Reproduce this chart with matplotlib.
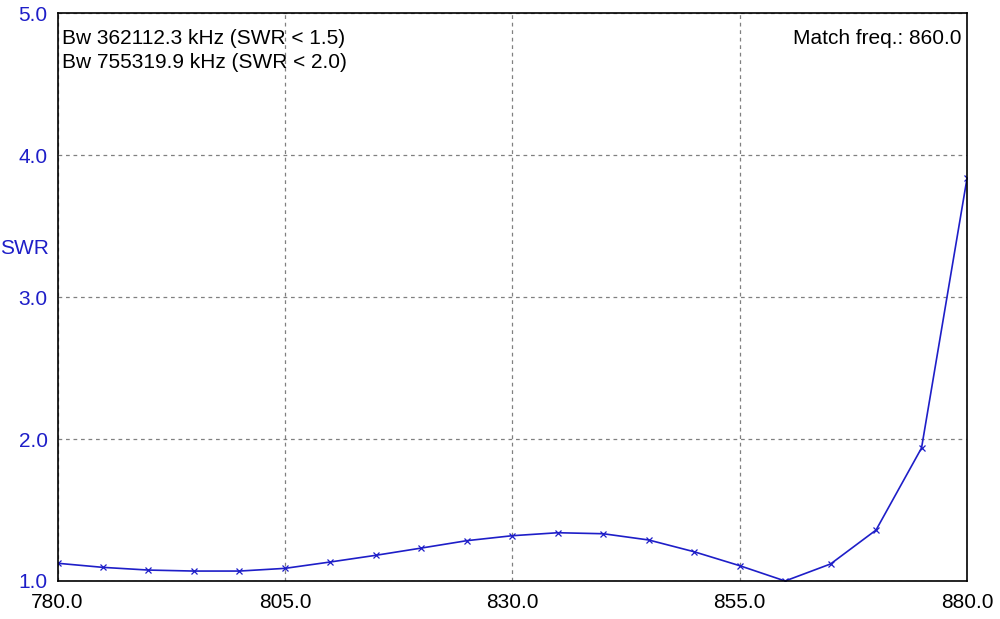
import numpy as np
import matplotlib.pyplot as plt

# SWR sweep, 780-880 MHz in 5 MHz steps
freq = [780, 785, 790, 795, 800, 805, 810, 815, 820, 825, 830,
        835, 840, 845, 850, 855, 860, 865, 870, 875, 880]
swr = [1.125, 1.096, 1.077, 1.070, 1.070, 1.089, 1.134, 1.181, 1.232, 1.284, 1.319,
       1.340, 1.333, 1.289, 1.206, 1.108, 1.000, 1.120, 1.359, 1.937, 3.836]
x_ticks = [780.0, 805.0, 830.0, 855.0, 880.0]
y_ticks = [1.0, 2.0, 3.0, 4.0, 5.0]
bw_lines = ["Bw 362112.3 kHz (SWR < 1.5)", "Bw 755319.9 kHz (SWR < 2.0)"]
match_text = "Match freq.: 860.0"

plt.rcParams['font.family'] = ['Liberation Sans', 'DejaVu Sans']
blue = '#1e1ec8'

fig = plt.figure(figsize=(10, 6.19), dpi=100)
ax = fig.add_axes([0.0575, 0.0614, 0.9095, 0.9172])

ax.plot(freq, swr, color=blue, lw=1.2, marker='x', ms=5, mew=0.9)

ax.set_xlim(780, 880)
ax.set_ylim(1.0, 5.0)
ax.set_xticks(x_ticks)
ax.set_xticklabels([f"{t:.1f}" for t in x_ticks])
ax.set_yticks(y_ticks)
ax.set_yticklabels([f"{t:.1f}" for t in y_ticks], color=blue)
ax.tick_params(length=0, labelsize=15)
ax.tick_params(axis='x', pad=9)
ax.tick_params(axis='y', pad=7)

ax.grid(True, color='#808080', ls=(0, (3, 3)), lw=0.9)
for s in ax.spines.values():
    s.set_linewidth(1.2)
    s.set_color('black')

fig.text(0.0, 1 - 249 / 619, "SWR", color=blue, fontsize=15, ha='left', va='center')

ax.text(0.005, 0.955, bw_lines[0], transform=ax.transAxes, fontsize=15, va='center', ha='left')
ax.text(0.005, 0.914, bw_lines[1], transform=ax.transAxes, fontsize=15, va='center', ha='left')
ax.text(0.994, 0.955, match_text, transform=ax.transAxes, fontsize=15, va='center', ha='right')

fig.savefig('out.png', dpi=100)
